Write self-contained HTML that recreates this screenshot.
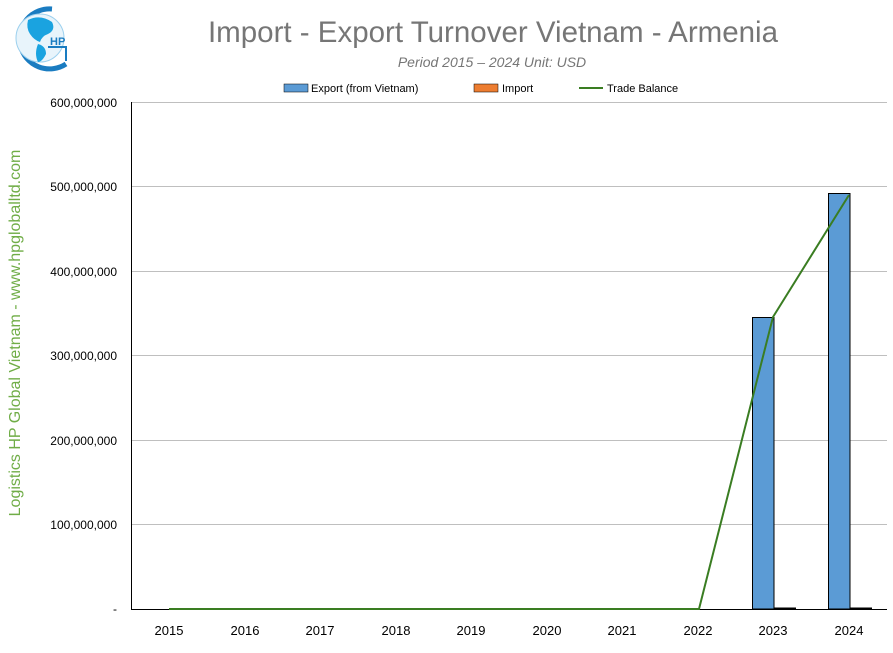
<!DOCTYPE html>
<html><head><meta charset="utf-8"><style>
body{margin:0;background:#fff;}
svg text{font-family:"Liberation Sans",Arial,sans-serif;}
</style></head><body>
<svg width="893" height="648" viewBox="0 0 893 648" xmlns="http://www.w3.org/2000/svg">
<rect width="893" height="648" fill="#fff"/>
<!-- logo -->
<g>
<path d="M 52 9 A 30 30 0 1 0 66 64" fill="none" stroke="#1a7cc1" stroke-width="5"/>
<circle cx="40" cy="38" r="24" fill="#e8f4fb" stroke="#9cd0ee" stroke-width="1"/>
<path d="M28 20 q12 -6 24 2 q4 8 -4 12 q-6 2 -8 8 q-6 -2 -10 -8 q-4 -6 -2 -14z" fill="#1aa3e0"/>
<path d="M38 44 q8 2 8 10 q-4 8 -8 8 q-4 -8 0 -18z" fill="#1aa3e0"/>
<text x="50" y="45" font-size="11" fill="#1a7cc1" font-weight="bold">HP</text>
<path d="M48 47 h18 v14" fill="none" stroke="#1a7cc1" stroke-width="2"/>
</g>
<text x="493" y="42" font-size="29.5" fill="#767676" text-anchor="middle">Import - Export Turnover Vietnam - Armenia</text>
<text x="492" y="67" font-size="14" fill="#767676" font-style="italic" text-anchor="middle">Period 2015 – 2024  Unit: USD</text>
<!-- legend -->
<rect x="284" y="84" width="24" height="8" fill="#5b9bd5" stroke="#000" stroke-width="0.5"/>
<text x="311" y="92" font-size="11" fill="#000">Export (from Vietnam)</text>
<rect x="474" y="84" width="24" height="8" fill="#ed7d31" stroke="#000" stroke-width="0.5"/>
<text x="502" y="92" font-size="11" fill="#000">Import</text>
<line x1="579" y1="88" x2="603" y2="88" stroke="#3a7d22" stroke-width="2"/>
<text x="607" y="92" font-size="11" fill="#000">Trade Balance</text>
<!-- gridlines -->
<g stroke="#bfbfbf" stroke-width="1">
<line x1="131" y1="102.5" x2="887" y2="102.5"/>
<line x1="131" y1="186.5" x2="887" y2="186.5"/>
<line x1="131" y1="271.5" x2="887" y2="271.5"/>
<line x1="131" y1="355.5" x2="887" y2="355.5"/>
<line x1="131" y1="440.5" x2="887" y2="440.5"/>
<line x1="131" y1="524.5" x2="887" y2="524.5"/>
</g>
<line x1="131.5" y1="102" x2="131.5" y2="609" stroke="#000" stroke-width="1"/>
<g font-size="12" fill="#000" text-anchor="end">
<text x="117" y="107">600,000,000</text>
<text x="117" y="191">500,000,000</text>
<text x="117" y="276">400,000,000</text>
<text x="117" y="360">300,000,000</text>
<text x="117" y="445">200,000,000</text>
<text x="117" y="529">100,000,000</text>
<text x="117" y="613">-</text>
</g>
<text transform="translate(20,333) rotate(-90)" font-size="16" fill="#70ad47" text-anchor="middle">Logistics HP Global Vietnam - www.hpgloballtd.com</text>
<!-- bars -->
<rect x="752.5" y="317.5" width="21.5" height="291.5" fill="#5b9bd5" stroke="#000" stroke-width="1"/>
<rect x="828.5" y="193.5" width="21.5" height="415.5" fill="#5b9bd5" stroke="#000" stroke-width="1"/>
<rect x="774" y="607.5" width="22" height="1.5" fill="#000"/>
<rect x="850" y="607.5" width="22" height="1.5" fill="#000"/>
<line x1="131" y1="609.5" x2="887" y2="609.5" stroke="#000" stroke-width="1"/>
<polyline points="169,609 699,609 773,317 849,195" fill="none" stroke="#3a7d22" stroke-width="2"/>
<g font-size="13" fill="#000" text-anchor="middle">
<text x="169" y="635">2015</text><text x="245" y="635">2016</text><text x="320" y="635">2017</text>
<text x="396" y="635">2018</text><text x="471" y="635">2019</text><text x="547" y="635">2020</text>
<text x="622" y="635">2021</text><text x="698" y="635">2022</text><text x="773" y="635">2023</text>
<text x="849" y="635">2024</text>
</g>
</svg>
</body></html>
